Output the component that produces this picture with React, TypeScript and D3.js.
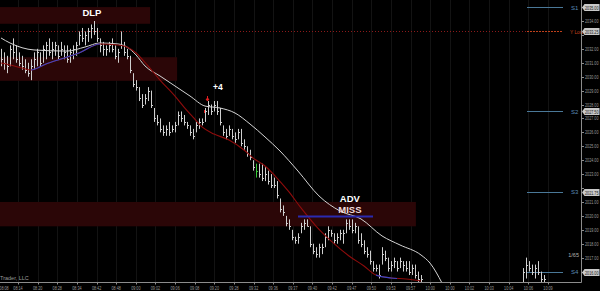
import React from "react";
import * as d3 from "d3";

const W = 600;
const H = 291;

// ---------- price bars (tick bars), main session ----------
const barHigh = [
  2032.0, 2031.75, 2031.5, 2032.25, 2032.75, 2032.25, 2031.75, 2031.5, 2031.25, 2031.0,
  2031.25, 2031.75, 2032.0, 2031.75, 2032.25, 2032.5, 2032.75, 2032.5, 2032.5, 2032.25,
  2032.5, 2032.25, 2032.25, 2032.0, 2032.25, 2032.5, 2033.25, 2033.5, 2033.25, 2033.5,
  2033.75, 2034.0, 2033.5, 2032.75, 2032.5, 2032.25, 2032.5, 2032.75, 2032.25, 2032.0,
  2033.25, 2032.5, 2032.0, 2031.5, 2030.25, 2029.75, 2029.25, 2028.75, 2028.75, 2029.25,
  2029.0, 2027.75, 2027.25, 2027.0, 2026.5, 2026.5, 2026.75, 2026.5, 2026.75, 2027.5,
  2027.5, 2027.25, 2026.75, 2026.5, 2026.25, 2026.75, 2027.0, 2027.0, 2027.75, 2028.25,
  2028.0, 2028.25, 2028.25, 2027.75, 2026.5, 2026.25, 2026.5, 2026.25, 2026.0, 2026.25,
  2026.25, 2025.5, 2025.0, 2024.75, 2024.0, 2023.75, 2023.75, 2023.75, 2023.5, 2023.25,
  2023.0, 2022.75, 2022.5, 2021.25, 2020.75, 2020.0, 2019.75, 2019.0, 2018.5, 2018.75,
  2019.5, 2019.75, 2019.75, 2019.25, 2018.0, 2017.75, 2018.0, 2018.0, 2018.75, 2019.25,
  2019.0, 2018.75, 2018.75, 2019.0, 2019.0, 2019.75, 2019.75, 2019.75, 2019.5, 2019.25,
  2018.75, 2018.25, 2017.75, 2017.5, 2016.75, 2016.5, 2016.5, 2017.75, 2017.5, 2017.0,
  2016.75, 2017.0, 2016.75, 2017.0, 2016.75, 2016.75, 2016.75, 2016.5, 2016.5, 2016.0,
  2015.75,
];
const barLow = [
  2030.75, 2030.5, 2030.25, 2030.75, 2031.25, 2031.0, 2030.75, 2030.5, 2030.25, 2030.0,
  2029.75, 2030.5, 2030.75, 2030.75, 2031.0, 2031.25, 2031.5, 2031.25, 2031.5, 2031.25,
  2031.5, 2031.25, 2031.0, 2031.0, 2031.25, 2031.5, 2032.25, 2032.5, 2032.25, 2032.5,
  2032.75, 2033.0, 2032.5, 2031.75, 2031.5, 2031.5, 2031.75, 2031.75, 2031.25, 2031.0,
  2032.0, 2031.5, 2031.25, 2030.25, 2029.25, 2029.0, 2028.25, 2027.75, 2028.0, 2028.25,
  2027.75, 2026.75, 2026.5, 2026.0, 2025.75, 2025.75, 2025.75, 2026.0, 2026.0, 2026.5,
  2026.75, 2026.5, 2026.25, 2025.75, 2025.5, 2026.0, 2026.25, 2026.5, 2026.75, 2027.25,
  2027.25, 2027.5, 2027.25, 2026.5, 2025.75, 2025.5, 2025.75, 2025.5, 2025.25, 2025.5,
  2025.0, 2024.75, 2024.25, 2024.0, 2023.25, 2022.75, 2022.75, 2022.5, 2022.5, 2022.25,
  2022.0, 2022.0, 2021.25, 2020.25, 2020.0, 2019.25, 2019.0, 2018.25, 2018.0, 2018.0,
  2018.75, 2019.0, 2019.25, 2017.75, 2017.25, 2017.0, 2017.0, 2017.25, 2017.75, 2018.25,
  2018.5, 2018.0, 2018.0, 2018.25, 2018.0, 2018.75, 2019.0, 2018.75, 2018.75, 2018.0,
  2017.75, 2017.25, 2017.0, 2016.5, 2016.0, 2016.0, 2015.5, 2016.5, 2016.75, 2016.0,
  2016.0, 2016.25, 2016.0, 2016.25, 2016.0, 2016.0, 2015.75, 2015.75, 2015.5, 2015.25,
  2015.25,
];
const barClose = [
  2031.25, 2031.0, 2030.75, 2032.0, 2031.75, 2031.25, 2031.0, 2030.75, 2030.5, 2030.25,
  2030.75, 2031.25, 2031.75, 2031.0, 2032.0, 2032.25, 2031.75, 2032.0, 2032.25, 2031.5,
  2032.0, 2031.75, 2031.25, 2031.75, 2032.0, 2032.25, 2033.0, 2032.75, 2033.0, 2033.25,
  2033.5, 2033.25, 2032.75, 2032.25, 2032.0, 2032.0, 2032.25, 2032.0, 2031.5, 2031.75,
  2032.25, 2031.75, 2031.5, 2030.5, 2029.5, 2029.25, 2028.5, 2028.0, 2028.5, 2029.0,
  2028.0, 2027.0, 2026.75, 2026.25, 2026.0, 2026.25, 2026.0, 2026.25, 2026.5, 2027.25,
  2027.0, 2026.75, 2026.5, 2026.0, 2025.75, 2026.5, 2026.75, 2026.75, 2027.5, 2028.0,
  2027.5, 2028.0, 2027.5, 2026.75, 2026.0, 2025.75, 2026.25, 2025.75, 2025.5, 2026.0,
  2025.25, 2025.0, 2024.5, 2024.25, 2023.5, 2023.25, 2023.0, 2022.75, 2023.0, 2022.5,
  2022.25, 2022.25, 2021.5, 2020.5, 2020.25, 2019.5, 2019.25, 2018.5, 2018.25, 2018.5,
  2019.25, 2019.5, 2019.25, 2018.0, 2017.5, 2017.25, 2017.75, 2017.75, 2018.5, 2019.0,
  2018.75, 2018.25, 2018.5, 2018.75, 2018.75, 2019.5, 2019.25, 2019.0, 2019.25, 2018.25,
  2018.0, 2017.5, 2017.25, 2016.75, 2016.25, 2016.25, 2015.75, 2017.25, 2017.0, 2016.25,
  2016.5, 2016.75, 2016.25, 2016.75, 2016.5, 2016.25, 2016.0, 2016.25, 2015.75, 2015.5,
  2015.5,
];

// ---------- late bars after the gap ----------
const lateStart = 174;
const lateHigh = [2016.25, 2017.0, 2016.75, 2016.5, 2016.5, 2016.75, 2016.0, 2015.75];
const lateLow = [2015.25, 2015.5, 2016.0, 2015.75, 2015.5, 2015.75, 2015.25, 2015.25];
const lateClose = [2016.0, 2016.5, 2016.25, 2016.0, 2016.25, 2016.0, 2015.5, 2015.5];

const greenBars = [85];
const signalBar = 69;

// ---------- moving averages ----------
const slowMaIdx = [0, 3, 11, 22, 28, 33, 39, 42, 45, 48, 53, 58, 63, 68, 73, 78, 83, 88, 93, 99, 106, 113, 120, 127, 133, 140, 143, 147];
const slowMaVal = [
  2032.78, 2032.42, 2031.92, 2031.84, 2032.13, 2032.42, 2032.35, 2032.13, 2031.56, 2030.77,
  2030.05, 2029.33, 2028.61, 2027.89, 2027.75, 2027.39, 2026.6, 2025.67, 2024.66, 2023.22,
  2021.43, 2020.35, 2019.78, 2018.56, 2017.91, 2017.19, 2016.61, 2015.18,
];
const fastMaIdx = [0, 3, 7, 10, 15, 20, 26, 33, 39, 42, 45, 49, 53, 58, 61, 64, 67, 71, 76, 81, 84, 88, 92, 96, 100, 105, 110, 116, 121, 125, 130, 135, 140];
const fastMaVal = [
  2030.98, 2030.84, 2030.62, 2030.48, 2030.91, 2031.27, 2031.7, 2032.35, 2032.28, 2032.13,
  2031.7, 2030.77, 2029.76, 2028.61, 2027.82, 2027.1, 2026.39, 2025.88, 2025.45, 2024.73,
  2024.16, 2023.58, 2022.72, 2021.72, 2020.57, 2019.27, 2018.2, 2017.12, 2016.4, 2015.75,
  2015.54, 2015.47, 2015.32,
];
const fastMaUpFrom = [10, 125];
const fastMaUpTo = [33, 132];

// ---------- levels / zones ----------
const levelNames = ["S1", "S2", "S3", "S4"];
const levelPrices = [2035.0, 2027.5, 2021.75, 2016.0];
const yLowPrice = 2033.25;
const zoneTop = [2035.0, 2031.4, 2021.0];
const zoneBottom = [2033.8, 2029.7, 2019.25];
const zoneEnd = [49.7, 58.7, 138.3];
const advPrice = 2019.95;
const advFrom = 99;
const advTo = 124;

// ---------- axes ----------
const priceTicks = [2016, 2017, 2018, 2019, 2020, 2021, 2022, 2023, 2024, 2025, 2026, 2027, 2028, 2029, 2030, 2031, 2032, 2033, 2034, 2035];
const timeLabels = [
  "08:08", "08:14", "08:20", "08:28", "08:34", "08:42", "08:48", "09:00", "09:02", "09:06",
  "09:08", "09:20", "09:28", "09:32", "09:36", "09:37", "09:40", "09:42", "09:47", "09:50",
  "09:53", "09:57", "10:00", "10:00", "10:02", "10:03", "10:04", "10:06", "10:09",
];

const FONT = "'Liberation Sans', Arial, sans-serif";
const SQUEEZE = 0.68;

export default function App() {
  const plotRight = 581.5;
  const plotBottom = 282.5;
  const x = d3.scaleLinear().domain([0, 1]).range([1, 4]);
  const y = d3.scaleLinear().domain([2034, 2017]).range([21, 21 + 17 * 13.92]);

  const tickStep = 6.543;
  const tickFirst = -0.87;
  const tickX = timeLabels.map((_, k) => x(tickFirst + k * tickStep));

  const bars = [
    ...barHigh.map((h, i) => ({ i, h, l: barLow[i], c: barClose[i] })),
    ...lateHigh.map((h, j) => ({ i: lateStart + j, h, l: lateLow[j], c: lateClose[j] })),
  ];

  const line = d3
    .line<[number, number]>()
    .x((d) => x(d[0]))
    .y((d) => y(d[1]))
    .curve(d3.curveMonotoneX);
  const slowPath = line(slowMaIdx.map((v, k) => [v, slowMaVal[k]]) as [number, number][]) || "";
  const fastPath = line(fastMaIdx.map((v, k) => [v, fastMaVal[k]]) as [number, number][]) || "";

  const lvlX0 = 527;
  const lvlX1 = 563;

  const boxPrices = [...levelPrices, yLowPrice];
  const visibleTicks = priceTicks.filter((p) => boxPrices.every((b) => Math.abs(y(b) - y(p)) > 5.5));

  const squeezed = (tx: number, ty: number, label: string, fill: string, anchor = "start") => (
    <text
      transform={`translate(${tx},${ty}) scale(${SQUEEZE},1)`}
      fontSize={5.5}
      fill={fill}
      fontFamily={FONT}
      textAnchor={anchor}
    >
      {label}
    </text>
  );

  const box = (price: number, label: string, key: string) => {
    const cy = Math.round(y(price)) + 0.5;
    return (
      <g key={key}>
        <path
          d={`M${plotRight + 0.5},${cy} L${plotRight + 3},${cy - 3.5} L599.5,${cy - 3.5} L599.5,${cy + 3.5} L${plotRight + 3},${cy + 3.5} Z`}
          fill="#c9c9c9"
        />
        {squeezed(585, cy + 2, label, "#1a1a1a")}
      </g>
    );
  };

  return (
    <div style={{ width: W, height: H, background: "#000" }}>
      <style>{`body{margin:0;background:#000;}`}</style>
      <svg width={W} height={H} style={{ display: "block", background: "#000" }}>
        <defs>
          {fastMaUpFrom.map((f, k) => (
            <clipPath id={`up${k}`} key={k}>
              <rect x={x(f)} y={0} width={x(fastMaUpTo[k]) - x(f)} height={H} />
            </clipPath>
          ))}
        </defs>
        <rect width={W} height={H} fill="#000" />

        {/* vertical grid */}
        {tickX.map((tx, k) => (
          <line key={k} x1={Math.round(tx) + 0.5} x2={Math.round(tx) + 0.5} y1={0} y2={plotBottom} stroke="#131313" />
        ))}

        {/* zones */}
        {zoneTop.map((t, k) => (
          <rect key={k} x={0} y={y(t)} width={x(zoneEnd[k])} height={y(zoneBottom[k]) - y(t)} fill="#2b0607" />
        ))}

        {/* Y Low */}
        <line x1={0} x2={lvlX0} y1={Math.round(y(yLowPrice)) + 0.5} y2={Math.round(y(yLowPrice)) + 0.5} stroke="#8c1a1a" strokeDasharray="1,2" />
        <line x1={lvlX0} x2={lvlX1} y1={Math.round(y(yLowPrice)) + 0.5} y2={Math.round(y(yLowPrice)) + 0.5} stroke="#c0401a" strokeDasharray="2,1" />
        <text transform={`translate(570,${y(yLowPrice) + 2.5}) scale(0.8,1)`} fontSize={6} fill="#c8461c" fontFamily={FONT}>
          Y Low
        </text>

        {/* S levels */}
        {levelPrices.map((p, k) => (
          <g key={k}>
            <line x1={lvlX0} x2={lvlX1} y1={Math.round(y(p)) + 0.5} y2={Math.round(y(p)) + 0.5} stroke="#4a7898" />
            <text x={571} y={y(p) + 2.5} fontSize={6} fill="#5a8ab4" fontFamily={FONT}>
              {levelNames[k]}
            </text>
          </g>
        ))}

        {/* bars */}
        {bars.map((b) => {
          const bx = Math.round(x(b.i)) + 0.5;
          const col = greenBars.includes(b.i) ? "#37c837" : "#cfcfcf";
          return (
            <g key={b.i} stroke={col}>
              <line x1={bx} x2={bx} y1={y(b.h)} y2={y(b.l)} />
              <line x1={bx} x2={bx + 1.5} y1={Math.round(y(b.c)) + 0.5} y2={Math.round(y(b.c)) + 0.5} />
            </g>
          );
        })}

        {/* signal marker */}
        <g stroke="#e02020" fill="#e02020">
          <line x1={x(signalBar) - 0.5} x2={x(signalBar) - 0.5} y1={y(barHigh[signalBar]) - 5} y2={y(barHigh[signalBar]) - 1} />
          <path d={`M${x(signalBar) - 2},${y(barHigh[signalBar]) - 2} L${x(signalBar) + 1},${y(barHigh[signalBar]) - 2} L${x(signalBar) - 0.5},${y(barHigh[signalBar])} Z`} />
          <line x1={x(signalBar - 1) - 0.5} x2={x(signalBar - 1) - 0.5} y1={y(barHigh[signalBar - 1]) + 2} y2={y(barHigh[signalBar - 1]) + 5} />
        </g>

        {/* moving averages */}
        <path d={slowPath} fill="none" stroke="#d4d4d4" strokeWidth={1} />
        <path d={fastPath} fill="none" stroke="#8e0c0c" strokeWidth={1.1} />
        {fastMaUpFrom.map((_, k) => (
          <path key={k} d={fastPath} fill="none" stroke="#3c48c4" strokeWidth={1.1} clipPath={`url(#up${k})`} />
        ))}

        {/* ADV line */}
        <line x1={x(advFrom)} x2={x(advTo)} y1={y(advPrice)} y2={y(advPrice)} stroke="#2a2ab0" strokeWidth={2} />

        {/* annotations */}
        <g fontFamily={FONT} fontWeight="bold" textAnchor="middle" fill="#ffffff">
          <text x={x(30.3)} y={15.5} fontSize={9.5}>DLP</text>
          <text x={x(72.3)} y={90} fontSize={8.5}>+4</text>
          <text x={x(116.3)} y={202} fontSize={9.5}>ADV</text>
          <text x={x(116.3)} y={212.5} fontSize={9.5} fill="#f2dcdc">MISS</text>
        </g>

        {/* axes */}
        <line x1={plotRight} x2={plotRight} y1={0} y2={plotBottom} stroke="#8c8c8c" />
        <line x1={0} x2={plotRight} y1={plotBottom} y2={plotBottom} stroke="#8c8c8c" />
        {priceTicks.map((p) => (
          <line key={p} x1={plotRight} x2={plotRight + 2.5} y1={Math.round(y(p)) + 0.5} y2={Math.round(y(p)) + 0.5} stroke="#8c8c8c" />
        ))}
        {visibleTicks.map((p) => (
          <g key={p}>{squeezed(585, y(p) + 2, p.toFixed(2), "#9c9c9c")}</g>
        ))}
        {timeLabels.map((t, k) => (
          <g key={k}>
            <line x1={Math.round(tickX[k]) + 0.5} x2={Math.round(tickX[k]) + 0.5} y1={plotBottom} y2={plotBottom + 2} stroke="#8c8c8c" />
            {squeezed(Math.max(tickX[k], 4), 289.5, t, "#9c9c9c", "middle")}
          </g>
        ))}

        {/* price boxes */}
        {levelPrices.map((p, k) => box(p, p.toFixed(2), `b${k}`))}
        {box(yLowPrice, yLowPrice.toFixed(2), "yl")}

        <text x={0} y={280} fontSize={5.5} fill="#9a9a9a" fontFamily={FONT}>
          Trader, LLC
        </text>
        <text x={579} y={257} fontSize={5.5} fill="#b0b0b0" textAnchor="end" fontFamily={FONT}>
          1/65
        </text>
      </svg>
    </div>
  );
}
